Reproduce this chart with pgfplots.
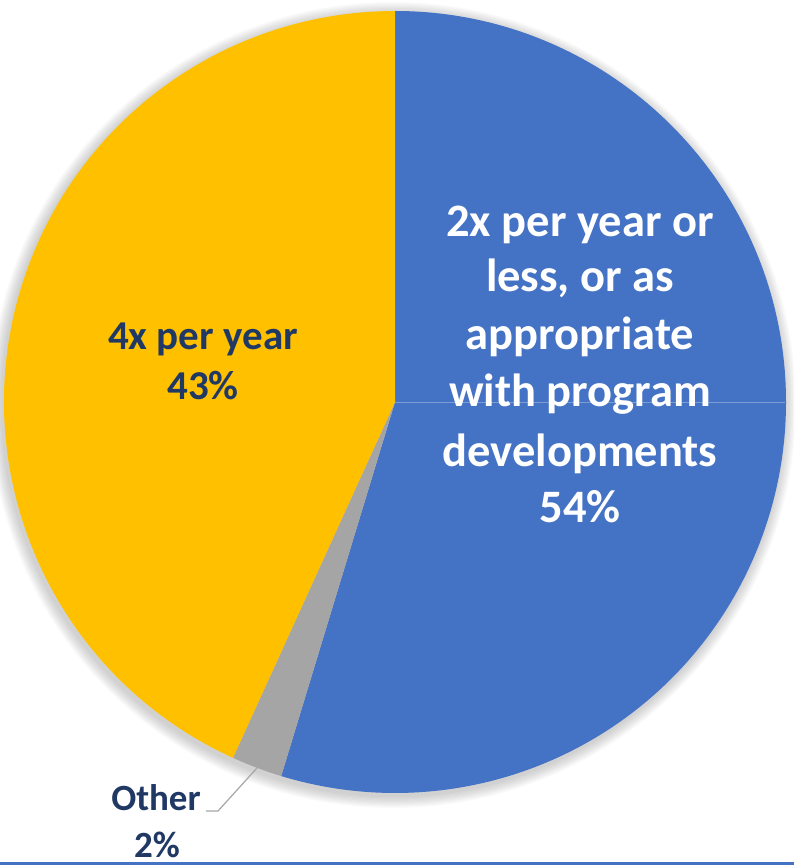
\documentclass[border=0pt]{standalone}
\usepackage{pgfplots}
\pgfplotsset{compat=1.18}
\usepackage{fontspec}
\setmainfont{Carlito}
\definecolor{cblue}{HTML}{4472C4}
\definecolor{cyellow}{HTML}{FFC000}
\definecolor{cgray}{HTML}{A5A5A5}
\definecolor{cnavy}{HTML}{203864}
\definecolor{cline}{HTML}{A6A6A6}
% slice values (percent), clockwise from top
\def\vBlue{54.7}
\def\vGray{2.1}
\def\vYellow{43.2}
\pgfmathsetmacro{\aA}{90}
\pgfmathsetmacro{\aB}{90-3.6*\vBlue}
\pgfmathsetmacro{\aC}{\aB-3.6*\vGray}
\pgfmathsetmacro{\aD}{\aC-3.6*\vYellow}
\begin{document}
\begin{tikzpicture}
\begin{axis}[
  x=1pt, y=1pt, xmin=0, xmax=794, ymin=0, ymax=865,
  hide axis, clip=false, scale only axis, anchor=origin, at={(0,0)},
]
% soft shadow
\pgfplotsinvokeforeach{1,...,10}{
  \fill[black, opacity=0.018] (axis cs:393,460) circle[radius={391pt+#1*1.2pt}];
}
\fill[cblue] (axis cs:395,463) -- ++(\aA:391pt) arc[start angle=\aA, end angle=\aB, radius=391pt] -- cycle;
\fill[cgray] (axis cs:395,463) -- ++(\aB:391pt) arc[start angle=\aB, end angle=\aC, radius=391pt] -- cycle;
\fill[cyellow] (axis cs:395,463) -- ++(\aC:391pt) arc[start angle=\aC, end angle=\aD, radius=391pt] -- cycle;
\draw[white!30!cblue, line width=0.4pt] (axis cs:395,463) -- (axis cs:785,463);
% labels
\begin{scope}[every node/.style={font=\bfseries\fontsize{46.5}{52}\selectfont, anchor=base, inner sep=0pt, text=white}]
\node at (axis cs:580,628) {2x per year or};
\node at (axis cs:580,573) {less, or as};
\node at (axis cs:580,515) {appropriate};
\node at (axis cs:580,458) {with program};
\node at (axis cs:580,398) {developments};
\node at (axis cs:580,342) {54\%};
\end{scope}
\begin{scope}[every node/.style={font=\bfseries\fontsize{41}{48}\selectfont, anchor=base, inner sep=0pt, text=cnavy}]
\node at (axis cs:203,515) {4x per year};
\node at (axis cs:203,465) {43\%};
\end{scope}
\begin{scope}[every node/.style={font=\bfseries\fontsize{37}{44}\selectfont, anchor=base, inner sep=0pt, text=cnavy}]
\node at (axis cs:156,54) {Other};
\node at (axis cs:157,8) {2\%};
\end{scope}
\draw[cline, line width=1.2pt] (axis cs:206,54) -- (axis cs:218,54) -- (axis cs:257,97);
\fill[cblue] (axis cs:0,0) rectangle (axis cs:794,3);
\end{axis}
\pgfresetboundingbox
\useasboundingbox (0,0) rectangle (794pt,865pt);
\end{tikzpicture}
\end{document}
